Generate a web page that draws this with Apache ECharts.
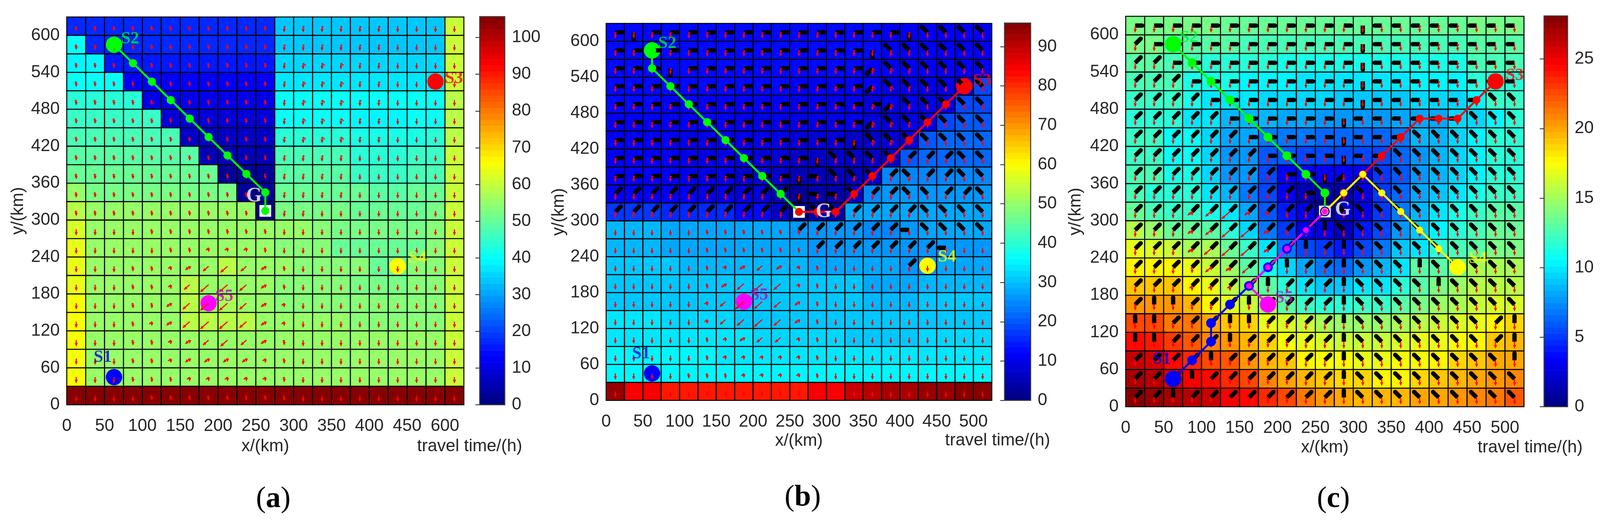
<!DOCTYPE html>
<html><head><meta charset="utf-8">
<style>html,body{margin:0;padding:0;background:#fff;overflow:hidden}#c{width:100vw;height:100vh}</style>
<script src="https://cdn.jsdelivr.net/npm/echarts@6/dist/echarts.min.js"></script>
</head><body><div id="c"></div>
<script>
// ---------- tick labels ----------
const xTicksA=[0,50,100,150,200,250,300,350,400,450,600];
const xTicksB=[0,50,100,150,200,250,300,350,400,450,500];
const xTicksC=[0,50,100,150,200,250,300,350,400,450,500];
const yTicks=[0,60,120,180,240,300,360,420,480,540,600];
// ---------- travel time per cell, rows from top (y=600-630) to bottom (y=0-30) ----------
const timeA=[
[18,18,18,18,18,18,18,18,18,18,18,34,34,34,34,34,34,34,34,34,60],
[41,17,17,17,17,17,17,17,17,17,17,34,34,34,34,34,34,34,34,34,60],
[39,39,15,15,15,15,15,15,15,15,15,36,36,36,36,36,36,36,36,36,60],
[40,40,40,13,13,13,13,13,13,13,13,37,37,37,37,37,37,37,37,37,60],
[43,43,43,43,11,11,11,11,11,11,11,40,40,40,40,40,40,40,40,40,59],
[45,45,45,45,45,9,9,9,9,9,9,41,41,41,40,39,39,39,40,41,59],
[47,47,47,47,47,47,7,7,7,7,7,44,44,44,44,42,42,42,42,43,59],
[49,49,49,49,49,49,49,5,5,5,5,47,47,47,47,44,44,44,46,46,60],
[51,51,51,51,51,51,51,51,3,3,3,48,48,48,48,46,46,46,47,47,60],
[56,52,52,52,52,52,52,52,52,2,2,50,50,50,50,50,48,48,50,50,60],
[59,55,55,55,55,55,55,55,55,55,1,52,52,52,52,50,50,50,50,52,60],
[62,56,56,56,56,56,56,56,56,56,56,56,56,54,52,52,52,52,52,54,60],
[63,56,56,56,56,56,56,56,56,56,56,54,54,54,51,51,51,51,51,54,61],
[63,56,56,56,56,56,56,56,58,56,56,56,53,53,53,53,51,51,53,53,61],
[64,56,56,56,56,56,58,56,56,56,56,54,54,54,54,52,52,52,54,54,61],
[65,56,56,56,56,56,58,56,57,56,56,54,54,54,54,53,53,53,54,54,61],
[66,56,56,56,56,56,58,58,58,58,56,55,55,55,55,54,54,54,54,54,61],
[66,56,56,56,56,56,56,56,56,56,56,56,56,56,56,56,56,56,56,56,60],
[66,56,56,56,56,56,56,56,56,56,56,56,56,56,56,55,55,55,55,55,60],
[66,56,56,56,56,56,56,56,56,56,56,56,56,56,56,55,55,55,55,55,60],
[105,105,105,105,105,105,105,105,105,105,105,105,105,105,105,105,105,105,105,105,105]];
const timeB=[
[12,12,12,12,12,12,12,12,12,12,12,12,12,12,12,11,11,11,11,11,11],
[12,12,12,12,12,12,12,12,12,12,12,12,12,12,12,11,11,11,11,11,11],
[12,12,12,12,12,12,12,12,12,12,12,12,12,12,11.5,11.5,11,11,11,11,11],
[12,12,12,12,12,12,12,12,12,12,10.5,10.5,10.5,10.5,10.5,9.5,9.5,9.5,9.5,9.5,18],
[12,12,12,11,11,11,11,11,11,11,10,10,10,10,8.5,9.5,10,10,10,19,19],
[11.5,11.5,11.5,11.5,10.5,10.5,10.5,10,10,10,9,9,9,9,8,8.5,9,9,19,20,20],
[11,11,11,11,10,10,10,9,9,9,8,8,8,7,7,8,8.5,20,21,21,21],
[11,11,11,11,9,9,9,8,8,8,6,6,6,6,6,7,20,22,22,22,22],
[10.5,10.5,10.5,10.5,9,9,9,7,7,7,5,4.5,4.5,5,6,24,24,24,24,24,24],
[11,11,11,11,11,9.5,9.5,8,8,5,2,3,4,6,25,26,26,26,26,26,26],
[17,17,17,16,16,16,16,13,13,7,1,3,4,27,27,27,27,27,27,27,27],
[29,29,29,28,28,28,28,28,28,28,26,26,26,26,25,25,26,27,27,27,27],
[29,29,29,28,28,28,28,28,28,28,27,26,26,26,26,26,26,26,26,26,26],
[30,30,30,30,29,29,29,29,29,29,29,27,27,27,27,27,26,26,28,28,28],
[31,31,31,31,31,30,30,30,30,30,30,30,30,30,28,28,28,29,29,29,29],
[31,31,31,31,31,30,30,31,31,31,31,30,31,31,29,29,29,30,30,30,30],
[33,33,33,32,32,32,32,31,31,31,31,31,31,31,30,30,30,31,31,31,31],
[34,34,34,34,33,33,33,33,32,32,32,32,32,31,31,31,31,32,32,32,32],
[35,35,35,35,35,35,34,34,34,34,34,34,34,34,33,33,33,33,33,33,33],
[35,35,35,35,35,35,35,35,35,35,35,35,35,35,35,35,35,35,35,35,35],
[93,84,85,82,82,82,82,82,82,82,82,84,85,89,91,92,92,93,94,95,95]];
const timeC=[
[14,14,14,14,14,13.6,13.6,13.6,13.6,13.6,13.6,13.5,13.3,13.3,13.3,13.3,13.3,13.3,14,14,14],
[13.7,13.7,13,13,13,13,12.5,12.5,12.5,12.5,12.5,12.5,12.5,12.5,12.3,12.3,12.3,12.3,13,13,13],
[13,13,12.3,12.3,11.5,11.5,11.5,11.5,11.3,11.3,11.3,11.3,11.3,11.3,11.3,11.2,11.2,11.2,12.3,12.3,12.3],
[12.5,12.5,12.5,11,11,11,10.5,10.5,10.5,10,10,10,10,10,10,10.3,10.3,10.3,11.5,11.5,11.5],
[12,12,12,11,10,10,10,9.3,9.3,9.3,9.3,9,9,9,9,9.5,9.5,9.5,10.5,12,12],
[11.5,11.5,11.5,10,10,8.5,8.5,8.5,8,8,7.8,7.8,7.8,7.8,8.3,8.3,8.3,9.5,9.5,10.5,11.5],
[12,12,10.8,10.8,9.5,8,8,7,7,7,6.5,6.5,6.5,6.5,7,8.5,8.5,9.5,10.5,11.5,11.5],
[12,12,10.7,10.7,9.3,7.5,7.5,6,6,5.5,5.5,5.5,5.5,5.5,6.5,7.5,8.7,9.5,10.5,11.5,11.5],
[12.3,12.3,11,11,9.3,7.5,7.5,5.5,3.5,3.3,3.3,3.3,3.3,5,6,7.5,8.5,9.5,10.5,11.5,11.5],
[12.7,11.5,11.5,11.5,10,8.5,7,5.5,3.3,1.5,1,1,3,5,6.5,8,9,10,11,12,12],
[13.5,12.5,12,12,11,9.8,8,6,4,3,0.5,2,3,5,7,8.5,10,11,12,13,13],
[15.5,14.5,13.5,13.5,13,11.5,9.5,7,5,3,3,1.7,4,5.5,7.5,9,10.5,11.5,12.5,13.5,13.5],
[17,16.5,16,15,15,13.5,12,10,7,5.5,5,4,5.5,7,9,10,11.5,12.5,13,14,14],
[18,18,18,17,16,14.5,13,11,9.3,8,7,6.5,7.5,8.5,10,13,13,13.5,15,15,15],
[19,19,19,18,17,15.5,14.5,13,11.5,10,9,9,10,10,11.5,13,14,14.7,15.5,15.5,15.5],
[20.5,20.5,20.5,19.5,18,17,16,15,13,12,11.5,11.5,12,12,13,14,14.5,15,16,16.5,16.5],
[22.5,22.5,21.5,21.5,20,19,18.5,17,16.5,16,15,14.5,14.5,14.5,15,15.5,16,16.5,17,18,18.5],
[24.5,24,23,22,21,20.5,19.5,18.5,17.5,17,16.5,16,16,16,16.5,17,17,17.5,18,19,19.5],
[26,25.5,24.5,23.5,22.5,22,20.5,19.5,19,18,17.5,17.5,17,17,17.5,17.5,18,18.5,19,20,20],
[27,26.5,25.5,25,24.5,23.5,22.5,21,20,19.5,19,18.5,18.5,18,18,18.5,19,19.5,20,20.5,21],
[28,27.5,27,26.5,26,25,24.5,23.5,22.5,21.5,20.5,20,19.5,19.5,19.5,20,20,20.5,21,21.5,22]];
// ---------- red flow vector per cell: 0 straight down, 1-6 swing to lower-left, p/q swing to lower-right ----------
const flowA=["11111111111pppppp0000","11111111111pppppp0000","11111111111pqqqpp0000","11111111111pqqqpp0000","11111111111pqqqpp0000","11111111111pqqqpp0000","11111111111pqqqpp0000","11111111111pppp000000","11111111111pppp000000","11111111111pppp000000","11111111111pp00000000","000011111110000000000","000001122210000000000","000112345431000000000","000112466531000000000","000113566532000000000","000123566532000000000","000112345431000000000","000112333321000000000","000111222221000000000","000011111111000000000"];
const flowB=["ppppppppppppppppp0000","ppppppppppppppppp0000","ppppppppppppppqqp0000","ppppppppppppppqqp0000","ppppppppppppppqqp0000","ppppppppppppppqqp0000","ppppppppppppppqqp0000","ppppppppppppppppp0000","ppppppppppppppppp0000","ppppppppppppppppp0000","ppppppppppppppppp0000","000001111110000000000","000001111110000000000","000001234321000000000","000001356521000000000","000002466531000000000","000002456531000000000","000001234421000000000","000001222221000000000","000011122221000000000","000001111111000000000"];
const flowC=["000000000000000ppp000","000000000000000ppp000","000000000000000ppp000","000000000000000ppp000","000000000000000ppp000","000000000000000ppp000","000000000000000ppp000","000000000000000ppp000","000000000000000ppp000","000000000000000ppp000","000346320000000000000","000346631000000000000","000356630000000000000","000143520000000000000","000222200000000000000","111111100000000000000","111111111000000000000","111111111000000000000","111111111000000000000","111111111000000000000","111111111000000000000"];
// ---------- black heading per cell: E W N S, A=up-right, B=up-left, C=down-left, .=none ----------
const headB=["ESEEEEEEEEEEEEEESBBBB","EEEEEEEEEEEEEESBBBBBB","EEESEEEEEEEEEECBBBBBB","EEEEEEEEEEEEEECBBBBBB","EEEEEEEEEEEEEEECBBBBB","EEEEEEEEEEEEEECBBBBBB","EEEEEEEEEEEEESBBBBBBB","EEEEEEEEEEESBBBBAAABB","EEEEEEEEEESWBBBABAABB","AAAAAAAAAASWWBAABBAAB","AAAAAAAAAA.BBAAAABBBB","..........AAAAAAWBBBB","...........AAAAAAAW..","................A....",".....................",".....................",".....................",".....................",".....................",".....................","....................."];
const headC=["EEEEEEEEEEEESWWWWWWWW","AEEEEEEEEEEESWWWWWWWW","AAEEEEEEEEEESWWWWWWWW","AAAEEEEEEEEESWWWWWWWW","AAAAEEEEEEEESWWWWWWBB","AAAAAEEEEEESWWWWWWBBB","AAAAAAEEEEESWWWBBBBBB","AAAAAAAEEEESWWBBBBBBB","AAAAAAAAEESCCBBBBBBBB","AAAAAAAAAESCBBBBBBBBB","AAAAAAAAAA.BBBBBBBBBB","AAAAAAAAAANBBBBBBBBBB","AAAAAAAAANANBBBBBBBBB","AAAAAAAANAANBBBNBBBBB","AAAAAAANAAANBBBBNBBBB","ANNAAANAAAANBBBBBBBBB","NNAAANNAAAANBBBBBBBAN","NNAAANAAAAANBBBBBBBAN","AAAANAAAAAANBBBBBBBBN","AAANAAAAAAANBBBBBBBBB","AANAAAAAAAANBBBBBBBBB"];
// ---------- routes ----------
const goal=[262.5,315];
const starts={S1:[62.5,45],S2:[62.5,585],S3:[487.5,525],S4:[437.5,225],S5:[187.5,165]};
const routeAgreen=[[62.5,585],[87.5,555],[112.5,525],[137.5,495],[162.5,465],[187.5,435],[212.5,405],[237.5,375],[262.5,345],[262.5,315]];
const routeBgreen=[[62.5,585],[62.5,555],[87.5,525],[112.5,495],[137.5,465],[162.5,435],[187.5,405],[212.5,375],[237.5,345],[262.5,315]];
const routeBred=[[487.5,525],[462.5,495],[437.5,465],[412.5,435],[387.5,405],[362.5,375],[337.5,345],[312.5,315],[287.5,315],[262.5,315]];
const routeCgreen=routeAgreen;
const routeCblue=[[62.5,45],[87.5,75],[112.5,105],[112.5,135],[137.5,165],[162.5,195],[187.5,225],[212.5,255],[237.5,285],[262.5,315]];
const routeCred=[[487.5,525],[462.5,495],[437.5,465],[412.5,465],[387.5,465],[362.5,435],[337.5,405],[312.5,375],[287.5,345],[262.5,315]];
const routeCyellow=[[437.5,225],[412.5,255],[387.5,285],[362.5,315],[337.5,345],[312.5,375],[287.5,345],[262.5,315]];
const routeCmagenta=[[187.5,165],[162.5,195],[187.5,225],[212.5,255],[237.5,285],[262.5,315]];

const SANS='"Liberation Sans",Arial,sans-serif', SERIF='"Liberation Serif","Times New Roman",serif', INK='#262626';
const CW=25, CH=30, XMAX=525, YMAX=630;
const SX=window.innerWidth/4146;   // the window may be capped below the reference width
function jet(t){
  const c=x=>Math.round(255*Math.max(0,Math.min(1,x)));
  return `rgb(${c(1.5-Math.abs(4*t-3))},${c(1.5-Math.abs(4*t-2))},${c(1.5-Math.abs(4*t-1))})`;
}
function level(v,max){const i=Math.min(63,Math.floor(v/max*64));return jet((i+0.5)/64);}
const panels=[
 {key:'a',left:173,right:1202,top:43.5,bottom:1037,barL:1243,barR:1308,max:105.7,step:10,time:timeA,flow:flowA,head:null,xt:xTicksA,shaft:14,
  nameGapY:102,nameGapX:85,tt:[1217,1144],cap:[708,1279],
  off:{S1:[-29,-50],S2:[41,-15],S3:[47,-7],S4:[51,-21],S5:[40,-17]},gOff:[-29,-38],startsOnTop:false,
  routes:[[routeAgreen,'#00ff00',21]]},
 {key:'b',left:1570.7,right:2570,top:60,bottom:1025.7,barL:2603,barR:2670.7,max:96,step:10,time:timeB,flow:flowB,head:headB,xt:xTicksB,shaft:14,
  nameGapY:99,nameGapX:81,tt:[2585,1129],cap:[2080,1275],
  off:{S1:[-28,-50],S2:[39,-17],S3:[46,-14],S4:[50,-22],S5:[39,-16]},gOff:[63,0],startsOnTop:false,
  routes:[[routeBgreen,'#00ff00',21],[routeBred,'#ff0000',20]]},
 {key:'c',left:2917,right:3949,top:41.7,bottom:1042,barL:4001,barR:4062,max:28.1,step:5,time:timeC,flow:flowC,head:headC,xt:xTicksC,shaft:16,
  nameGapY:106,nameGapX:83,tt:[3965,1147],cap:[3455,1279],
  off:{S1:[-29,-50],S2:[40,-17],S3:[49,-15],S4:[52,-22],S5:[41,-16]},gOff:[46,-4],startsOnTop:true,
  routes:[[routeCgreen,'#00ff00',22.6],[routeCblue,'#0000ff',25],[routeCred,'#ff0000',20],[routeCyellow,'#ffff00',18],[routeCmagenta,'#ff00ff',15]]}
];
const startColor={S1:'#0000ff',S2:'#00ff00',S3:'#ff0000',S4:'#ffff00',S5:'#ff00ff'};
const labelColor={S1:'#0000e6',S2:'#00ee30',S3:'#ff0000',S4:'#ffff00',S5:'#c000c0'};

const grid=[],xAxis=[],yAxis=[],series=[],graphic=[];
const dirs={E:[1,0,18],W:[-1,0,18],N:[0,-1,18],S:[0,1,18],A:[.707,-.707,20],B:[-.707,-.707,20],C:[-.707,.707,20]};

function cellData(p){const out=[];p.time.forEach((row,r)=>row.forEach((v,c)=>out.push([c*CW,(20-r)*CH,v])));return out;}
function vecData(rows){const out=[];rows.forEach((row,r)=>{for(let c=0;c<row.length;c++){if(row[c]!=='.')out.push([(c+.5)*CW,(20-r+.5)*CH,row[c]]);}});return out;}

panels.forEach((p,idx)=>{
  const g=idx*2, b=idx*2+1;
  grid.push({left:p.left*SX,top:p.top,width:(p.right-p.left)*SX,height:p.bottom-p.top});
  grid.push({left:p.barL*SX,top:p.top-1,width:(p.barR-p.barL)*SX,height:p.bottom-p.top+1});
  xAxis.push({gridIndex:g,type:'value',min:0,max:XMAX,interval:50,splitLine:{show:false},axisLine:{show:false},axisTick:{show:false},
    name:'x/(km)',nameLocation:'middle',nameGap:p.nameGapX,nameTextStyle:{fontFamily:SANS,fontSize:44,color:INK},
    axisLabel:{showMaxLabel:false,margin:33,fontFamily:SANS,fontSize:44,color:INK,formatter:v=>String(p.xt[Math.round(v/50)])}});
  yAxis.push({gridIndex:g,type:'value',min:0,max:YMAX,interval:60,splitLine:{show:false},axisLine:{show:false},axisTick:{show:false},
    name:'y/(km)',nameLocation:'middle',nameGap:p.nameGapY,nameRotate:90,nameTextStyle:{fontFamily:SANS,fontSize:44,color:INK},
    axisLabel:{showMaxLabel:false,margin:18,fontFamily:SANS,fontSize:44,color:INK,formatter:v=>String(yTicks[Math.round(v/60)])}});
  xAxis.push({gridIndex:b,type:'value',min:0,max:1,show:false});
  yAxis.push({gridIndex:b,type:'value',min:0,max:p.max,interval:p.step,position:'right',splitLine:{show:false},
    axisLine:{show:false},axisTick:{show:true,inside:true,length:11,lineStyle:{color:INK,width:2}},
    axisLabel:{showMaxLabel:false,margin:18,fontFamily:SANS,fontSize:44,color:INK}});

  // cells
  series.push({type:'custom',xAxisIndex:g,yAxisIndex:g,z:1,silent:true,clip:false,data:cellData(p),encode:{x:0,y:1},
    renderItem:(par,api)=>{
      const x=api.value(0),y=api.value(1),a=api.coord([x,y+CH]),c=api.coord([x+CW,y]);
      return {type:'rect',shape:{x:a[0],y:a[1],width:c[0]-a[0],height:c[1]-a[1]},
        style:{fill:level(api.value(2),p.max),stroke:'#000',lineWidth:2.6}};
    }});
  // colour bar
  const bands=[];for(let i=0;i<64;i++)bands.push([i*p.max/64]);
  series.push({type:'custom',xAxisIndex:b,yAxisIndex:b,z:1,silent:true,clip:false,data:bands,encode:{y:0},
    renderItem:(par,api)=>{
      const v=api.value(0),a=api.coord([0,v+p.max/64]),c=api.coord([1,v]);
      return {type:'rect',shape:{x:a[0],y:a[1],width:c[0]-a[0],height:c[1]-a[1]+0.6},
        style:{fill:level(v+p.max/128,p.max)}};
    }});
  series.push({type:'custom',xAxisIndex:b,yAxisIndex:b,z:3,silent:true,clip:false,data:[[0]],encode:{y:0},
    renderItem:(par,api)=>{
      const a=api.coord([0,p.max]),c=api.coord([1,0]);
      return {type:'rect',shape:{x:a[0],y:a[1],width:c[0]-a[0],height:c[1]-a[1]},
        style:{fill:'none',stroke:'#3a3a3a',lineWidth:2.6}};
    }});
  // start markers and their labels
  const startZ=p.startsOnTop?7:2;
  Object.keys(starts).forEach(k=>{
    series.push({type:'scatter',xAxisIndex:g,yAxisIndex:g,z:startZ,silent:true,symbol:'circle',symbolSize:42,
      itemStyle:{color:startColor[k],opacity:1},data:[starts[k]]});
    series.push({type:'scatter',xAxisIndex:g,yAxisIndex:g,z:8,silent:true,symbol:'circle',symbolSize:1,
      itemStyle:{color:'transparent'},data:[starts[k]],
      label:{show:true,position:'inside',formatter:k,offset:p.off[k],color:labelColor[k],fontFamily:SERIF,fontWeight:'bold',fontSize:44}});
  });
  // black headings
  if(p.head){
    series.push({type:'custom',xAxisIndex:g,yAxisIndex:g,z:3,silent:true,clip:false,data:vecData(p.head),encode:{x:0,y:1},
      renderItem:(par,api)=>{
        const m=api.coord([api.value(0),api.value(1)]),d=dirs[p.head[20-Math.floor(api.value(1)/CH)][Math.floor(api.value(0)/CW)]];
        const ex=m[0]+d[0]*d[2],ey=m[1]+d[1]*d[2];
        return {type:'group',children:[
          {type:'line',shape:{x1:m[0],y1:m[1],x2:ex,y2:ey},style:{stroke:'#000',lineWidth:11,lineCap:'butt'}},
          {type:'circle',shape:{cx:ex,cy:ey,r:5.5},style:{fill:'#000'}}]};
      }});
  }
  // red flow arrows
  series.push({type:'custom',xAxisIndex:g,yAxisIndex:g,z:4,silent:true,clip:false,data:vecData(p.flow),encode:{x:0,y:1},
    renderItem:(par,api)=>{
      const m=api.coord([api.value(0),api.value(1)]);
      const code=p.flow[20-Math.floor(api.value(1)/CH)][Math.floor(api.value(0)/CW)];
      const red='#ff0000',ch=[];
      const arrow=(dx,dy,head)=>{
        const L=Math.hypot(dx,dy),ux=dx/L,uy=dy/L,tx=m[0]+dx,ty=m[1]+dy;
        ch.push({type:'line',shape:{x1:m[0],y1:m[1],x2:tx,y2:ty},style:{stroke:red,lineWidth:2.8}});
        if(head){ch.push({type:'polygon',shape:{points:[[tx+ux*2,ty+uy*2],[tx-ux*7-uy*4,ty-uy*7+ux*4],[tx-ux*7+uy*4,ty-uy*7-ux*4]]},style:{fill:red}});}
      };
      let s=0,side=-1;
      if(code==='p'){s=1;side=1;}else if(code==='q'){s=2;side=1;}else{s=+code;}
      const shaft=side>0?p.shaft:Math.max(0,p.shaft-s*2.4);
      if(shaft>5)arrow(0,shaft,true);
      if(s>0)arrow(side*s*3.4,s*3,s>=3);
      return {type:'group',children:ch};
    }});
  // goal box
  series.push({type:'scatter',xAxisIndex:g,yAxisIndex:g,z:5,silent:true,symbol:'rect',symbolSize:30,
    itemStyle:{color:'#fff',opacity:1},data:[goal]});
  // routes
  p.routes.forEach(r=>{
    series.push({type:'line',xAxisIndex:g,yAxisIndex:g,z:6,silent:true,data:r[0],symbol:'circle',symbolSize:r[2],showSymbol:true,
      lineStyle:{color:r[1],width:5},itemStyle:{color:r[1]}});
  });
  // goal letter
  series.push({type:'scatter',xAxisIndex:g,yAxisIndex:g,z:8,silent:true,symbol:'circle',symbolSize:1,itemStyle:{color:'transparent'},data:[goal],
    label:{show:true,position:'inside',formatter:'G',offset:p.gOff,color:'#fff',fontFamily:SERIF,fontWeight:'bold',fontSize:52}});
  // side and panel captions
  graphic.push({type:'text',x:p.tt[0]*SX,y:p.tt[1],style:{text:'travel time/(h)',fontFamily:SANS,fontSize:44,fill:INK,align:'center',verticalAlign:'middle'}});
  graphic.push({type:'text',x:p.cap[0]*SX,y:p.cap[1],style:{text:'{n|(}{k|'+p.key+'}{n|)}',align:'center',verticalAlign:'middle',
    rich:{n:{fontFamily:SERIF,fontSize:76,fill:'#000'},k:{fontFamily:SERIF,fontWeight:'bold',fontSize:76,fill:'#000'}}}});
});

const chart=echarts.init(document.getElementById('c'));
chart.setOption({animation:false,backgroundColor:'#fff',grid,xAxis,yAxis,series,graphic});
</script></body></html>
